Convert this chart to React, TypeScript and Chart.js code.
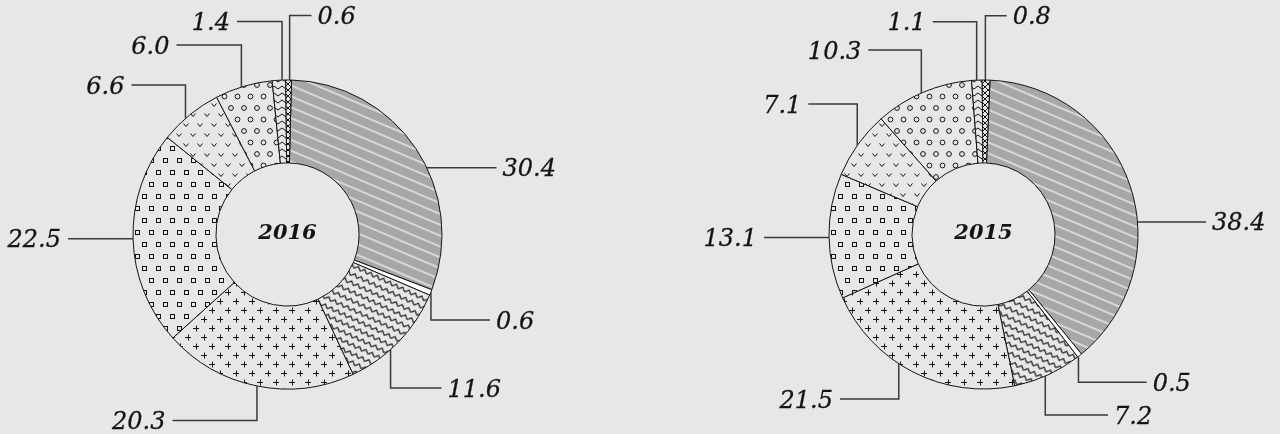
import React, { useEffect, useRef } from "react";
import { Chart, ArcElement, DoughnutController } from "chart.js";

Chart.register(ArcElement, DoughnutController);

// ---- data ----
const categories = [
  "Segment 1", "Segment 2", "Segment 3", "Segment 4", "Segment 5",
  "Segment 6", "Segment 7", "Segment 8", "Segment 9",
];
const years = ["2016", "2015"];
const values2016 = [30.4, 0.6, 11.6, 20.3, 22.5, 6.6, 6.0, 1.4, 0.6];
const values2015 = [38.4, 0.5, 7.2, 21.5, 13.1, 7.1, 10.3, 1.1, 0.8];
const patternKinds = ["diag", "white", "zigzag", "plus", "square", "vee", "circle", "wave", "cross"];

// ---- leader-label layout (fraction of slice, elbow offset, line end offset) ----
const anchorT2016 = [0.575, 0.4, 0.6, 0.5, 0.5, 0.41, 0.46, 0.73, 0.67];
const elbowDy2016: (number | null)[] = [null, 85.5, 153.5, 186, null, -149.5, -189.5, -213, -219];
const endDx2016 = [209, 202.5, 154, -115, -219.5, -156, -111, -50.5, 24];
const anchorT2015 = [0.6, 0.8, 0.54, 0.58, 0.49, 0.48, 0.48, 0.48, 0.41];
const elbowDy2015: (number | null)[] = [null, 147.8, 180.5, 164.5, null, -130.5, -184.5, -212.8, -218.8];
const endDx2015 = [222.5, 163.2, 124.5, -143.5, -219.5, -175.2, -115.2, -50.8, 23.2];

const BG = "#e6e7e8";
const INK = "#141414";

function makePattern(kind: string): CanvasPattern | string {
  if (kind === "white") return "#ffffff";
  const c = document.createElement("canvas");
  const g = c.getContext("2d")!;
  let angle = 0;
  const setSize = (w: number, h: number, fill: string) => {
    c.width = w;
    c.height = h;
    g.fillStyle = fill;
    g.fillRect(0, 0, w, h);
    g.strokeStyle = INK;
    g.lineWidth = 1;
  };
  switch (kind) {
    case "diag": {
      setSize(10, 10, "#a6a7a9");
      g.strokeStyle = "#ffffff";
      g.lineWidth = 1.1;
      g.beginPath();
      g.moveTo(0, 5);
      g.lineTo(10, 5);
      g.stroke();
      angle = 23;
      break;
    }
    case "zigzag": {
      setSize(7, 8, BG);
      g.lineWidth = 1.1;
      g.beginPath();
      g.moveTo(0, 5.5);
      g.lineTo(3.5, 2);
      g.lineTo(7, 5.5);
      g.stroke();
      angle = 25;
      break;
    }
    case "plus": {
      setSize(16, 18, BG);
      const plus = (x: number, y: number) => {
        g.beginPath();
        g.moveTo(x - 3, y + 0.5);
        g.lineTo(x + 3, y + 0.5);
        g.moveTo(x + 0.5, y - 2.5);
        g.lineTo(x + 0.5, y + 3.5);
        g.stroke();
      };
      plus(4, 4);
      plus(12, 13);
      break;
    }
    case "square": {
      setSize(14, 24, BG);
      g.strokeRect(2.5, 2.5, 4, 4);
      g.strokeRect(9.5, 14.5, 4, 4);
      break;
    }
    case "vee": {
      setSize(14, 20, BG);
      const vee = (x: number, y: number) => {
        g.beginPath();
        g.moveTo(x, y);
        g.lineTo(x + 2.5, y + 3);
        g.lineTo(x + 5, y);
        g.stroke();
      };
      vee(1.5, 3.5);
      vee(8.5, 13.5);
      break;
    }
    case "circle": {
      setSize(13, 23, BG);
      g.beginPath();
      g.arc(3.5, 4.5, 2.4, 0, Math.PI * 2);
      g.stroke();
      g.beginPath();
      g.arc(10, 16, 2.4, 0, Math.PI * 2);
      g.stroke();
      break;
    }
    case "wave": {
      setSize(8, 7, BG);
      g.beginPath();
      g.moveTo(0, 3.5);
      g.quadraticCurveTo(2, 0.5, 4, 3.5);
      g.quadraticCurveTo(6, 6.5, 8, 3.5);
      g.stroke();
      break;
    }
    case "cross": {
      setSize(6, 6, BG);
      g.beginPath();
      g.moveTo(0, 0);
      g.lineTo(6, 6);
      g.moveTo(6, 0);
      g.lineTo(0, 6);
      g.stroke();
      break;
    }
  }
  const pat = g.createPattern(c, "repeat")!;
  if (angle) pat.setTransform(new DOMMatrix().rotateSelf(angle));
  return pat;
}

type DonutProps = {
  values: number[];
  year: string;
  rotation: number;
  left: number;
  padLeft: number;
  padRight: number;
  anchorT: number[];
  elbowDy: (number | null)[];
  endDx: number[];
};

function Donut(props: DonutProps) {
  const ref = useRef<HTMLCanvasElement>(null);
  useEffect(() => {
    const canvas = ref.current!;
    const { values, year, rotation, padLeft, padRight, anchorT, elbowDy, endDx } = props;
    const texts = values.map((v) => v.toFixed(1));
    const leaderPlugin = {
      id: "leaders",
      afterDatasetsDraw(chart: any) {
        const ctx: CanvasRenderingContext2D = chart.ctx;
        const meta = chart.getDatasetMeta(0);
        ctx.save();
        let cx = 0;
        let cy = 0;
        meta.data.forEach((arc: any, i: number) => {
          const p = arc.getProps(["x", "y", "startAngle", "endAngle", "outerRadius"], true);
          cx = p.x;
          cy = p.y;
          const a = p.startAngle + anchorT[i] * (p.endAngle - p.startAngle);
          const ax = p.x + p.outerRadius * Math.cos(a);
          const ay = p.y + p.outerRadius * Math.sin(a);
          const dy = elbowDy[i];
          const ly = dy === null ? ay : p.y + dy;
          const ex = p.x + endDx[i];
          ctx.strokeStyle = "#3a3a3a";
          ctx.lineWidth = 1.5;
          ctx.beginPath();
          ctx.moveTo(ax, ay);
          ctx.lineTo(ax, ly);
          ctx.lineTo(ex, ly);
          ctx.stroke();
          const rightSide = ex > ax;
          ctx.fillStyle = INK;
          ctx.strokeStyle = INK;
          ctx.lineWidth = 0.3;
          ctx.font = 'italic 24px "DejaVu Serif"';
          ctx.textBaseline = "alphabetic";
          ctx.textAlign = rightSide ? "left" : "right";
          const tx = rightSide ? ex + 6 : ex - 7;
          ctx.fillText(texts[i], tx, ly + 8.5);
          ctx.strokeText(texts[i], tx, ly + 8.5);
        });
        ctx.font = 'italic bold 21px "DejaVu Serif"';
        ctx.textAlign = "center";
        ctx.textBaseline = "alphabetic";
        ctx.fillStyle = INK;
        ctx.fillText(year, cx, cy + 4.5);
        ctx.restore();
      },
    };
    const chart = new Chart(canvas, {
      type: "doughnut",
      data: {
        labels: categories,
        datasets: [
          {
            data: values,
            backgroundColor: patternKinds.map((k) => makePattern(k)) as any,
            borderColor: INK,
            borderWidth: 1,
          },
        ],
      },
      options: {
        responsive: false,
        animation: false,
        events: [],
        rotation,
        radius: 154.5,
        cutout: "46.3%",
        layout: { padding: { top: 35, bottom: 0, left: padLeft, right: padRight } },
        plugins: { legend: { display: false }, tooltip: { enabled: false } },
      } as any,
      plugins: [leaderPlugin],
    });
    return () => chart.destroy();
  }, []);
  return (
    <canvas
      ref={ref}
      width={640}
      height={434}
      style={{ position: "absolute", left: props.left, top: 0, width: 640, height: 434 }}
    />
  );
}

export default function App() {
  useEffect(() => {
    document.body.style.margin = "0";
    document.body.style.background = BG;
  }, []);
  return (
    <div style={{ position: "relative", width: 1280, height: 434, background: BG, overflow: "hidden" }}>
      <Donut
        values={values2016}
        year={years[0]}
        rotation={1.5}
        left={0}
        padLeft={0}
        padRight={65}
        anchorT={anchorT2016}
        elbowDy={elbowDy2016}
        endDx={endDx2016}
      />
      <Donut
        values={values2015}
        year={years[1]}
        rotation={2.4}
        left={640}
        padLeft={47}
        padRight={0}
        anchorT={anchorT2015}
        elbowDy={elbowDy2015}
        endDx={endDx2015}
      />
    </div>
  );
}
